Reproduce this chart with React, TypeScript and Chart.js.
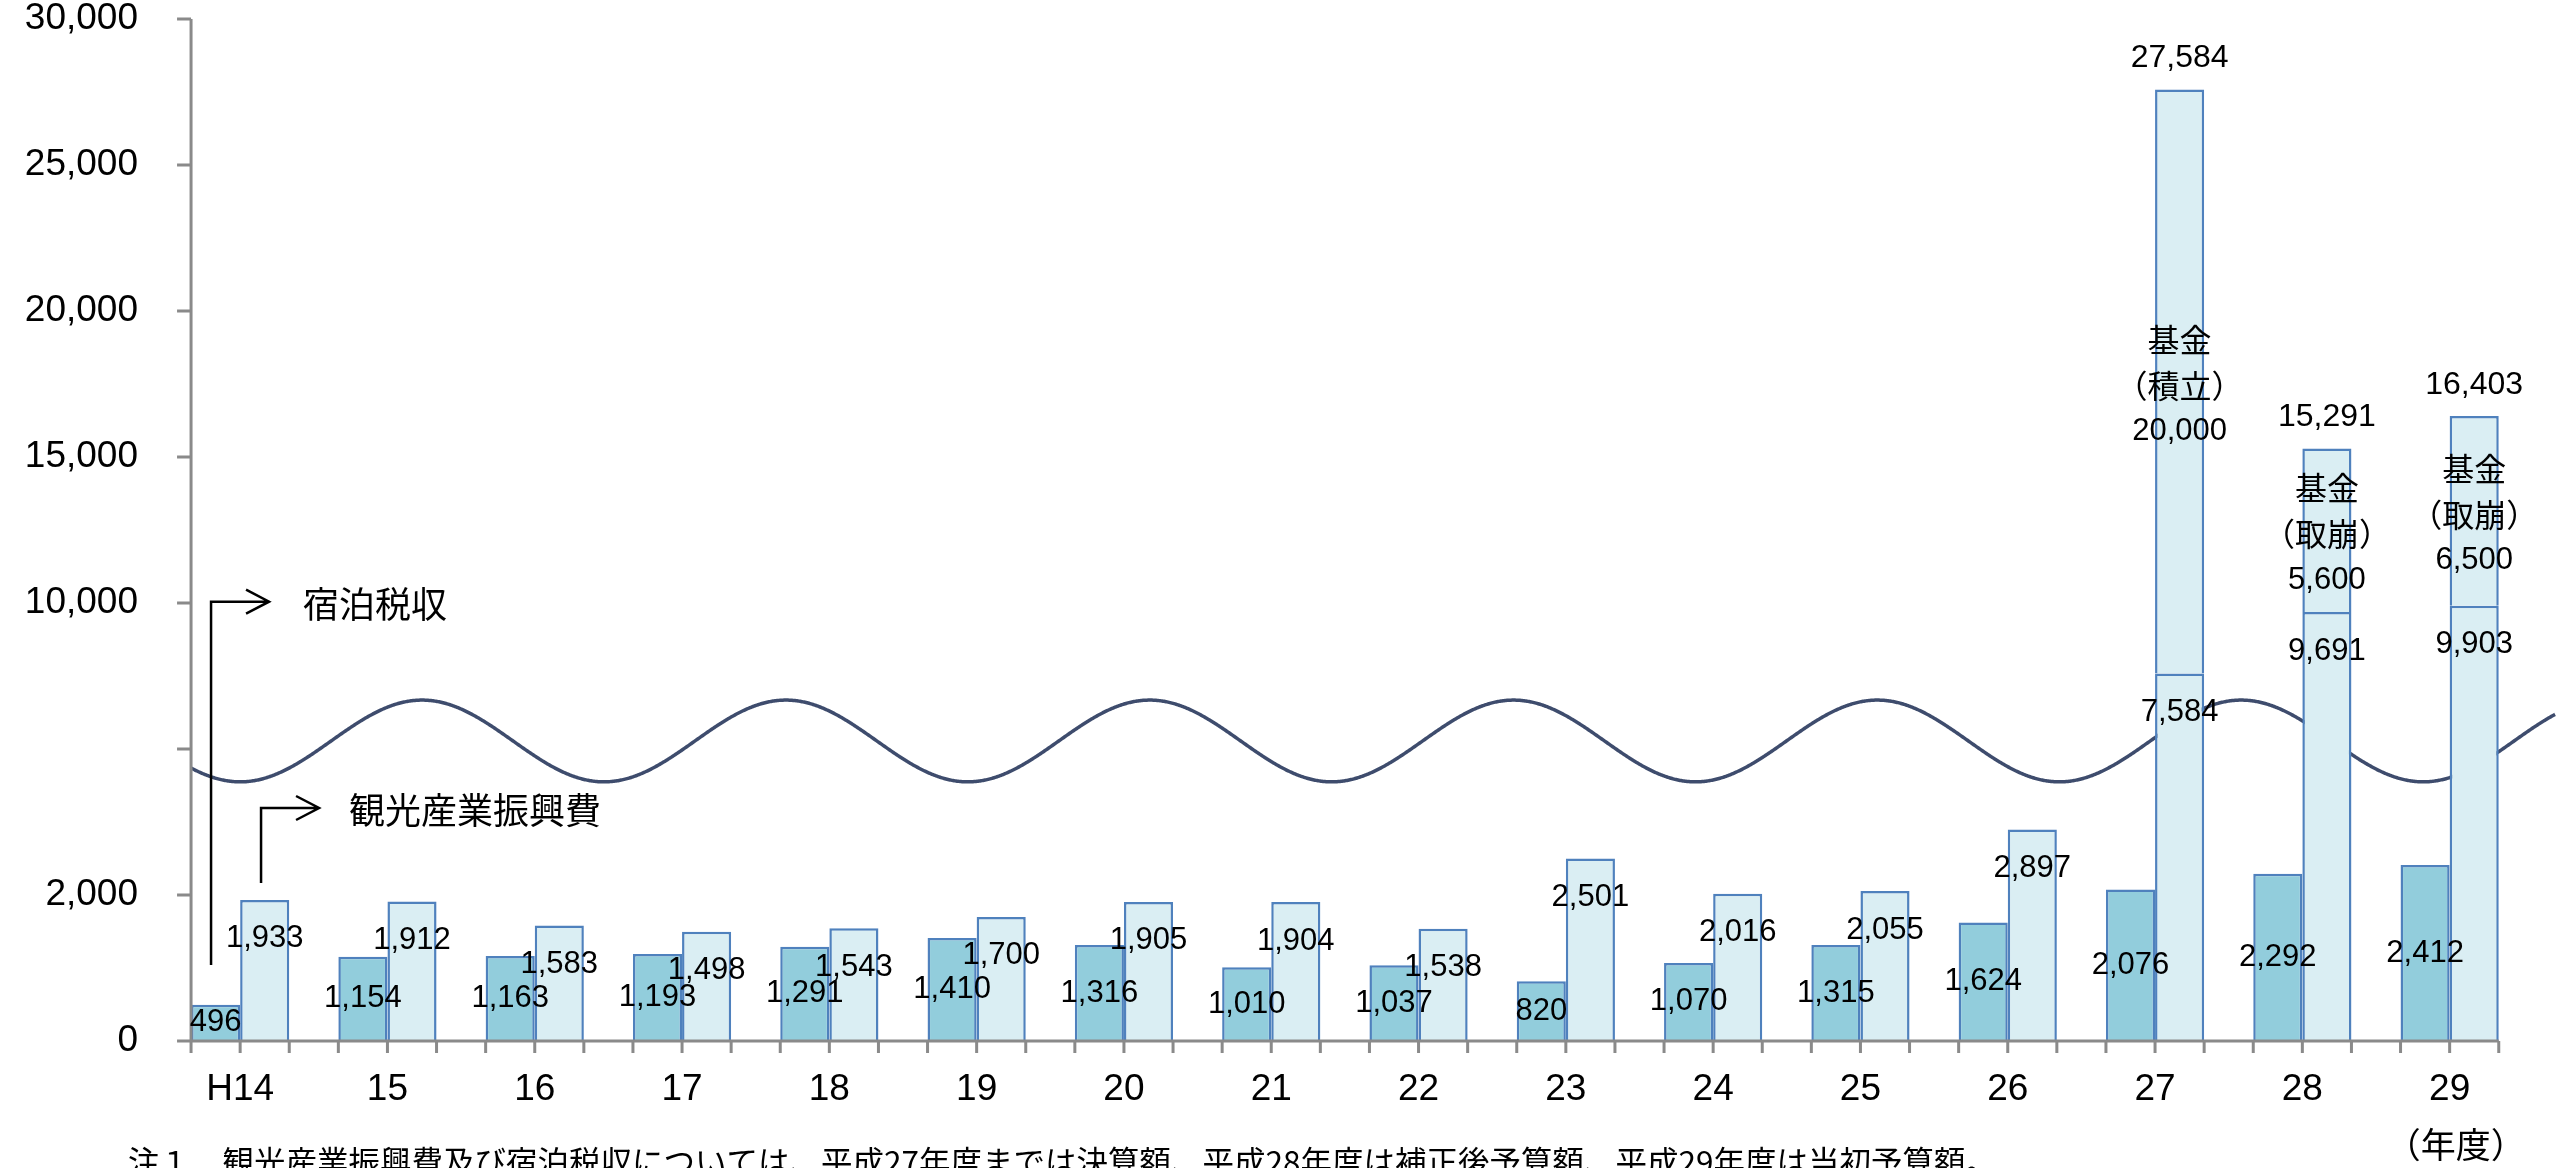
import React, { useEffect, useRef } from "react";
import { Chart, registerables } from "chart.js";

Chart.register(...registerables);

// ---------------- data ----------------
const categories = ["H14", "15", "16", "17", "18", "19", "20", "21", "22", "23", "24", "25", "26", "27", "28", "29"];
// 宿泊税収 (dark bars)
const hotelTaxRevenue = [496, 1154, 1163, 1193, 1291, 1410, 1316, 1010, 1037, 820, 1070, 1315, 1624, 2076, 2292, 2412];
// 観光産業振興費 (light bars, excluding fund part)
const tourismExpense = [1933, 1912, 1583, 1498, 1543, 1700, 1905, 1904, 1538, 2501, 2016, 2055, 2897, 7584, 9691, 9903];
// 基金 part stacked on top of the light bars
const fundAmount: (number | null)[] = [null, null, null, null, null, null, null, null, null, null, null, null, null, 20000, 5600, 6500];
const fundCaption: (string | null)[] = [null, null, null, null, null, null, null, null, null, null, null, null, null, "（積立）", "（取崩）", "（取崩）"];
const fundTitle = "基金";
// y-axis ticks (null = unlabeled break tick)
const yTickValues: (number | null)[] = [0, 2000, null, 10000, 15000, 20000, 25000, 30000];
const seriesNames = ["宿泊税収", "観光産業振興費", "基金"];
const unitLabel = "（年度）";
const footnote = "注１　観光産業振興費及び宿泊税収については、平成27年度までは決算額、平成28年度は補正後予算額、平成29年度は当初予算額。";

// broken axis: 0–2000 per unit below the break, 5000 per unit above it
const toDisplay = (v: number) => Math.min(v / 2000, 1 + v / 5000);
const fmt = (v: number) => v.toLocaleString("en-US");

const NUM_FONT = '"Liberation Sans", Arial, sans-serif';
const JP_FONT = '"Noto Sans CJK JP", "Noto Sans CJK SC", sans-serif';

const DARK_FILL = "#92CDDC";
const LIGHT_FILL = "#DAEEF3";
const BAR_BORDER = "#4F81BD";
const AXIS_COLOR = "#8A8A8A";
const WAVE_COLOR = "#3E4C6D";

const decorPlugin = {
  id: "decor",
  beforeDatasetsDraw(chart: any) {
    const { ctx, scales } = chart;
    const x = scales.x;
    const y = scales.y;
    const slot = (x.getPixelForValue(1) - x.getPixelForValue(0)) / 3;
    const axisX = x.getPixelForValue(0) - slot;
    const unit = y.getPixelForValue(0) - y.getPixelForValue(1);
    const period = 2.47 * slot * 3;
    const x0 = x.getPixelForValue(0);
    const yc = y.getPixelForValue(2.055);
    const amp = 0.28 * unit;
    ctx.save();
    ctx.beginPath();
    for (let px = axisX; px <= chart.width - 10; px += 1) {
      const py = yc + amp * Math.cos((2 * Math.PI * (px - x0)) / period);
      if (px === axisX) ctx.moveTo(px, py);
      else ctx.lineTo(px, py);
    }
    ctx.strokeStyle = WAVE_COLOR;
    ctx.lineWidth = 3.5;
    ctx.stroke();
    ctx.restore();
  },
  afterDatasetsDraw(chart: any) {
    const { ctx, scales } = chart;
    const x = scales.x;
    const y = scales.y;
    const slot = (x.getPixelForValue(1) - x.getPixelForValue(0)) / 3;
    const axisX = x.getPixelForValue(0) - slot;
    const axisEnd = x.getPixelForValue(categories.length - 1) + slot;
    const y0 = y.getPixelForValue(0);
    const yTop = y.getPixelForValue(yTickValues.length - 1);

    ctx.save();
    // axes
    ctx.strokeStyle = AXIS_COLOR;
    ctx.lineWidth = 3;
    ctx.beginPath();
    ctx.moveTo(axisX, yTop);
    ctx.lineTo(axisX, y0);
    ctx.moveTo(axisX, y0);
    ctx.lineTo(axisEnd, y0);
    for (let i = 0; i < yTickValues.length; i++) {
      const py = y.getPixelForValue(i);
      ctx.moveTo(axisX - 14, py);
      ctx.lineTo(axisX, py);
    }
    const nSlots = categories.length * 3 - 1;
    for (let s = 0; s <= nSlots; s++) {
      const px = axisX + s * slot;
      ctx.moveTo(px, y0);
      ctx.lineTo(px, y0 + 12);
    }
    ctx.stroke();

    // data labels
    ctx.fillStyle = "#000";
    ctx.textAlign = "center";
    ctx.textBaseline = "middle";
    const darkMeta = chart.getDatasetMeta(0);
    const lightMeta = chart.getDatasetMeta(1);
    const fundMeta = chart.getDatasetMeta(2);
    ctx.font = `31px ${NUM_FONT}`;
    hotelTaxRevenue.forEach((v, i) => {
      const el = darkMeta.data[i];
      ctx.fillText(fmt(v), el.x, (el.y + el.base) / 2);
    });
    tourismExpense.forEach((v, i) => {
      const el = lightMeta.data[i];
      ctx.fillText(fmt(v), el.x, el.y + 39);
    });
    fundAmount.forEach((f, i) => {
      if (f == null) return;
      const el = fundMeta.data[i];
      const cy = (el.y + el.base) / 2 + 4;
      ctx.font = `32px ${JP_FONT}`;
      ctx.fillText(fundTitle, el.x, cy - 46);
      ctx.fillText(fundCaption[i] || "", el.x, cy);
      ctx.font = `31px ${NUM_FONT}`;
      ctx.fillText(fmt(f), el.x, cy + 46);
      ctx.font = `32px ${NUM_FONT}`;
      ctx.fillText(fmt(tourismExpense[i] + f), el.x, el.y - 31);
    });

    // series annotations (arrows)
    ctx.strokeStyle = "#000";
    ctx.lineWidth = 2.5;
    const drawArrow = (vx: number, yBottom: number, yLevel: number, xEnd: number) => {
      ctx.beginPath();
      ctx.moveTo(vx, yBottom);
      ctx.lineTo(vx, yLevel);
      ctx.lineTo(xEnd, yLevel);
      ctx.moveTo(xEnd - 23, yLevel - 12);
      ctx.lineTo(xEnd, yLevel);
      ctx.lineTo(xEnd - 23, yLevel + 12);
      ctx.stroke();
    };
    const a1y = y.getPixelForValue(3.009);
    drawArrow(axisX + 20, y.getPixelForValue(0.52), a1y, axisX + 78);
    const a2y = y.getPixelForValue(1.596);
    drawArrow(axisX + 70, y.getPixelForValue(1.082), a2y, axisX + 128);
    ctx.font = `36px ${JP_FONT}`;
    ctx.textAlign = "left";
    ctx.fillText(seriesNames[0], axisX + 112, a1y + 3);
    ctx.fillText(seriesNames[1], axisX + 158, a2y + 2);

    // unit label and footnote
    ctx.textAlign = "center";
    ctx.font = `35px ${JP_FONT}`;
    ctx.fillText(unitLabel, x.getPixelForValue(categories.length - 1) + 6, 1145);
    ctx.textAlign = "left";
    ctx.font = `31.5px ${JP_FONT}`;
    ctx.fillText(footnote, 128, 1162);
    ctx.restore();
  },
};

export default function App() {
  const canvasRef = useRef<HTMLCanvasElement | null>(null);

  useEffect(() => {
    const canvas = canvasRef.current;
    if (!canvas) return;
    const chart = new Chart(canvas, {
      type: "bar",
      data: {
        labels: categories,
        datasets: [
          {
            label: seriesNames[0],
            data: hotelTaxRevenue.map(toDisplay),
            backgroundColor: DARK_FILL,
            borderColor: BAR_BORDER,
            borderWidth: 2.5,
            stack: "a",
          },
          {
            label: seriesNames[1],
            data: tourismExpense.map(toDisplay),
            backgroundColor: LIGHT_FILL,
            borderColor: BAR_BORDER,
            borderWidth: 2.5,
            stack: "b",
          },
          {
            label: seriesNames[2],
            data: fundAmount.map((f, i) =>
              f == null ? null : [toDisplay(tourismExpense[i]), toDisplay(tourismExpense[i] + f)]
            ) as any,
            backgroundColor: LIGHT_FILL,
            borderColor: BAR_BORDER,
            borderWidth: 2.5,
            stack: "b",
          },
        ],
      },
      options: {
        animation: false,
        responsive: false,
        maintainAspectRatio: false,
        devicePixelRatio: 1,
        layout: { padding: { top: 19, right: 42.7, left: 0, bottom: 0 } },
        datasets: {
          bar: {
            categoryPercentage: 2 / 3,
            barPercentage: 1,
          },
        },
        plugins: {
          legend: { display: false },
          tooltip: { enabled: false },
        },
        scales: {
          x: {
            type: "category",
            grid: { display: false, drawTicks: false },
            border: { display: false },
            ticks: {
              color: "#000",
              font: { family: NUM_FONT, size: 37 },
              padding: 27,
              autoSkip: false,
              maxRotation: 0,
            },
            afterFit: (scale: any) => {
              scale.height = 127;
              scale.paddingLeft = 0;
              scale.paddingRight = 0;
            },
          },
          y: {
            type: "linear",
            stacked: false,
            min: 0,
            max: yTickValues.length - 1,
            grid: { display: false, drawTicks: false },
            border: { display: false },
            ticks: {
              stepSize: 1,
              color: "#000",
              font: { family: NUM_FONT, size: 37 },
              padding: 28.5,
              callback: (value: any) => {
                const v = yTickValues[Math.round(Number(value))];
                return v == null ? "" : fmt(v);
              },
            },
            afterFit: (scale: any) => {
              scale.width = 166.5;
              scale.paddingTop = 0;
              scale.paddingBottom = 0;
            },
          },
        },
      } as any,
      plugins: [decorPlugin],
    });
    return () => chart.destroy();
  }, []);

  return (
    <div style={{ position: "fixed", left: 0, top: 0, width: 2566, height: 1168, background: "#fff", overflow: "hidden" }}>
      <canvas ref={canvasRef} width={2566} height={1168} style={{ display: "block" }} />
    </div>
  );
}
